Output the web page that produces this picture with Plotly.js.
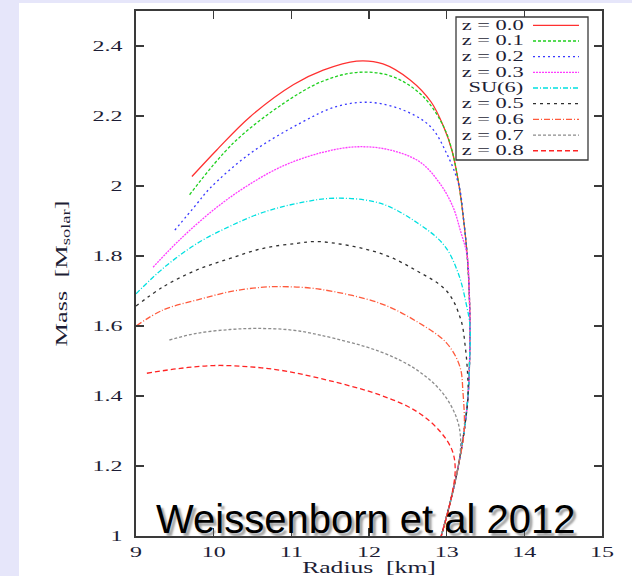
<!DOCTYPE html>
<html>
<head>
<meta charset="utf-8">
<script src="https://cdn.plot.ly/plotly-3.0.1.min.js"></script>
<style>
  html, body { margin: 0; padding: 0; width: 632px; height: 576px; overflow: hidden; background: #e6e6fa; }
  #chart { position: absolute; left: 19px; top: 3px; width: 613px; height: 573px; background: #ffffff; }
</style>
</head>
<body>
<div id="chart"></div>
<script>
// Neutron-star mass–radius relations for hyperonic matter, varying the SU(3) parameter z.

var seriesNames = ['z = 0.0', 'z = 0.1', 'z = 0.2', 'z = 0.3', 'SU(6)', 'z = 0.5', 'z = 0.6', 'z = 0.7', 'z = 0.8'];

var radius_z00 = [9.72, 10.04, 10.47, 11.03, 11.41, 11.84, 12.18, 12.53, 12.80, 12.96, 13.07, 13.16, 13.22, 13.265, 13.29, 13.30, 13.295, 13.275, 13.225, 13.15, 13.05, 12.93];
var mass_z00   = [2.027, 2.103, 2.198, 2.290, 2.331, 2.357, 2.349, 2.303, 2.240, 2.170, 2.100, 2.000, 1.900, 1.800, 1.700, 1.600, 1.500, 1.400, 1.300, 1.200, 1.100, 1.000];

var radius_z01 = [9.69, 10.25, 10.90, 11.41, 11.88, 12.31, 12.70, 12.96, 13.07, 13.16, 13.22, 13.265, 13.29, 13.30, 13.295, 13.275, 13.225, 13.15, 13.05, 12.93];
var mass_z01   = [1.975, 2.122, 2.236, 2.300, 2.325, 2.312, 2.255, 2.170, 2.100, 2.000, 1.900, 1.800, 1.700, 1.600, 1.500, 1.400, 1.300, 1.200, 1.100, 1.000];

var radius_z02 = [9.50, 9.78, 9.95, 10.47, 11.11, 11.58, 12.01, 12.44, 12.79, 13.00, 13.16, 13.22, 13.265, 13.29, 13.30, 13.295, 13.275, 13.225, 13.15, 13.05, 12.93];
var mass_z02   = [1.874, 1.948, 1.993, 2.093, 2.179, 2.227, 2.239, 2.217, 2.170, 2.093, 2.000, 1.900, 1.800, 1.700, 1.600, 1.500, 1.400, 1.300, 1.200, 1.100, 1.000];

var radius_z03 = [9.22, 9.57, 10.00, 10.40, 10.88, 11.40, 11.84, 12.27, 12.66, 12.91, 13.08, 13.18, 13.265, 13.29, 13.30, 13.295, 13.275, 13.225, 13.15, 13.05, 12.93];
var mass_z03   = [1.768, 1.848, 1.932, 1.996, 2.056, 2.096, 2.112, 2.103, 2.068, 2.008, 1.941, 1.870, 1.800, 1.700, 1.600, 1.500, 1.400, 1.300, 1.200, 1.100, 1.000];

var radius_su6 = [9.00, 9.35, 9.78, 10.21, 10.64, 11.07, 11.55, 12.14, 12.62, 12.97, 13.15, 13.25, 13.30, 13.295, 13.275, 13.225, 13.15, 13.05, 12.93];
var mass_su6   = [1.692, 1.765, 1.835, 1.885, 1.925, 1.950, 1.965, 1.951, 1.895, 1.830, 1.750, 1.665, 1.600, 1.500, 1.400, 1.300, 1.200, 1.100, 1.000];

var radius_z05 = [9.00, 9.35, 9.78, 10.21, 10.64, 11.07, 11.37, 12.14, 12.62, 13.00, 13.18, 13.24, 13.27, 13.275, 13.225, 13.15, 13.05, 12.93];
var mass_z05   = [1.657, 1.712, 1.760, 1.793, 1.822, 1.836, 1.841, 1.808, 1.757, 1.700, 1.620, 1.540, 1.460, 1.400, 1.300, 1.200, 1.100, 1.000];

var radius_z06 = [9.00, 9.35, 9.78, 10.21, 10.64, 10.98, 11.37, 12.14, 12.62, 13.00, 13.17, 13.21, 13.225, 13.15, 13.05, 12.93];
var mass_z06   = [1.600, 1.646, 1.674, 1.698, 1.711, 1.712, 1.705, 1.665, 1.612, 1.551, 1.484, 1.410, 1.300, 1.200, 1.100, 1.000];

var radius_z07 = [9.43, 9.78, 10.21, 10.55, 10.98, 11.37, 12.14, 12.62, 12.95, 13.13, 13.18, 13.15, 13.05, 12.93];
var mass_z07   = [1.560, 1.579, 1.590, 1.593, 1.589, 1.574, 1.527, 1.474, 1.408, 1.336, 1.275, 1.200, 1.100, 1.000];

var radius_z08 = [9.14, 9.57, 10.00, 10.43, 10.85, 11.28, 12.14, 12.62, 12.91, 13.07, 13.11, 13.05, 12.93];
var mass_z08   = [1.465, 1.479, 1.487, 1.484, 1.474, 1.455, 1.403, 1.355, 1.300, 1.245, 1.190, 1.100, 1.000];

var xTickVals = [9, 10, 11, 12, 13, 14, 15];
var xTickText = ['9', '10', '11', '12', '13', '14', '15'];
var yTickVals = [1, 1.2, 1.4, 1.6, 1.8, 2, 2.2, 2.4];
var yTickText = ['1', '1.2', '1.4', '1.6', '1.8', '2', '2.2', '2.4'];

var radii  = [radius_z00, radius_z01, radius_z02, radius_z03, radius_su6, radius_z05, radius_z06, radius_z07, radius_z08];
var masses = [mass_z00, mass_z01, mass_z02, mass_z03, mass_su6, mass_z05, mass_z06, mass_z07, mass_z08];

// gnuplot-like line styles
var lineColors = ['#ff3030', '#1fd01f', '#3a3aff', '#ff3cff', '#00e0e0', '#303030', '#ff5a3c', '#8c8c8c', '#ff2424'];
var lineDashes = ['solid', '3px,2px', '2px,3px', '2px,1px', '5px,2px,1px,2px', '3px,4px', '6px,2px,1px,2px', '3px,2px', '5px,3px'];

var serif = 'Liberation Serif, Times New Roman, serif';
var inkColor = '#1d1d35';
var frameColor = '#3a3a3a';

var traces = radii.map(function (r, i) {
  return {
    type: 'scatter', mode: 'lines', name: seriesNames[i],
    x: r, y: masses[i],
    line: { color: lineColors[i], width: 1.3, dash: lineDashes[i], shape: 'spline', smoothing: 1 },
    showlegend: false
  };
});

// page-pixel helpers for the plot frame (left 136, top 11, 466 x 525)
var FRAME = { left: 136, top: 11, width: 466, height: 525 };
function fx(p) { return (p - FRAME.left) / FRAME.width; }
function fy(p) { return (FRAME.top + FRAME.height - p) / FRAME.height; }

var shapes = [];
var annotations = [];

// key box in the upper right
shapes.push({ type: 'rect', xref: 'paper', yref: 'paper', x0: fx(456), x1: fx(588), y0: fy(160), y1: fy(17),
  line: { color: frameColor, width: 1.3 }, fillcolor: '#ffffff', layer: 'above' });
seriesNames.forEach(function (name, i) {
  var rowY = fy(25.3 + i * 15.68);
  annotations.push({ xref: 'paper', yref: 'paper', x: fx(525), y: rowY, xanchor: 'right', yanchor: 'middle',
    align: 'right', showarrow: false, text: name, borderpad: 0,
    font: { family: serif, size: 14, color: inkColor } });
  shapes.push({ type: 'line', xref: 'paper', yref: 'paper', x0: fx(533), x1: fx(579), y0: rowY, y1: rowY,
    line: { color: lineColors[i], width: 1.3, dash: lineDashes[i] }, layer: 'above' });
});

// citation overlay with a soft drop shadow
annotations.push({ xref: 'paper', yref: 'paper', x: fx(155), y: fy(542), xanchor: 'left', yanchor: 'bottom',
  showarrow: false, text: 'Weissenborn et al 2012', borderpad: 0,
  font: { family: 'Liberation Sans, Arial, sans-serif', size: 40, color: '#000000',
          shadow: '3px 3px 2px rgba(90,90,90,0.55)' } });

var axisCommon = {
  showgrid: false, zeroline: false, showline: true, mirror: 'ticks',
  linecolor: frameColor, linewidth: 1.6,
  ticks: 'inside', ticklen: 8, tickwidth: 1.3, tickcolor: frameColor,
  tickfont: { family: serif, size: 15, color: inkColor }
};

var layout = {
  width: 613, height: 573,
  margin: { l: 117, r: 30, t: 8, b: 40 },
  paper_bgcolor: '#ffffff', plot_bgcolor: '#ffffff',
  showlegend: false,
  xaxis: Object.assign({}, axisCommon, {
    range: [9, 15], tickmode: 'array', tickvals: xTickVals, ticktext: xTickText,
    ticklabelstandoff: 1,
    title: { text: 'Radius  [km]', font: { family: serif, size: 16, color: inkColor }, standoff: 2 }
  }),
  yaxis: Object.assign({}, axisCommon, {
    range: [1, 2.5], tickmode: 'array', tickvals: yTickVals, ticktext: yTickText,
    ticklabelstandoff: 9,
    title: { text: 'Mass  [M<sub>solar</sub>]', font: { family: serif, size: 16.5, color: inkColor }, standoff: 32 }
  }),
  shapes: shapes,
  annotations: annotations
};

// the serif lettering is set wide, like the original plotting terminal
function widenSerif(gd, factor) {
  gd.querySelectorAll('svg text').forEach(function (t) {
    var ff = t.style.fontFamily || '';
    if (ff.indexOf('Serif') < 0) return;
    var w = t.getComputedTextLength();
    if (!w) return;
    t.setAttribute('textLength', (w * factor).toFixed(1));
    t.setAttribute('lengthAdjust', 'spacingAndGlyphs');
  });
}

var gd = document.getElementById('chart');
Plotly.newPlot(gd, traces, layout, { staticPlot: true, displayModeBar: false }).then(function () {
  widenSerif(gd, 1.6);
});
</script>
</body>
</html>
